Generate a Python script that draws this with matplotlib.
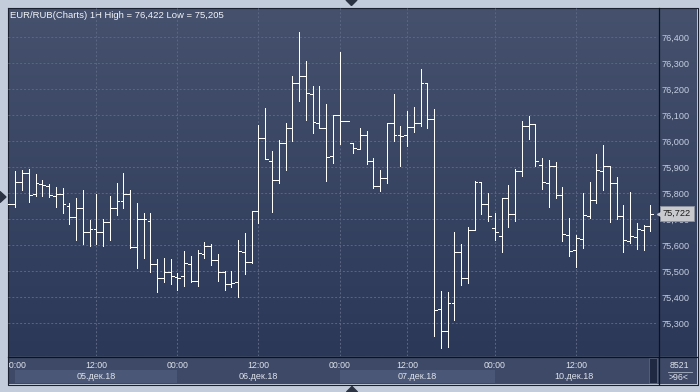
import numpy as np
import matplotlib
matplotlib.use("Agg")
import matplotlib.pyplot as plt
from matplotlib.patches import Rectangle, Polygon
from matplotlib.colors import LinearSegmentedColormap
from matplotlib.transforms import Bbox, TransformedBbox, blended_transform_factory, ScaledTranslation

# ---------------- data (EUR/RUB, 1H bars) ----------------
hours = list(range(-1, 95))
opens = [75.759, 75.759, 75.842, 75.877, 75.796, 75.834, 75.828, 75.788, 75.796, 75.751, 75.710,
         75.742, 75.652, 75.662, 75.650, 75.691, 75.742, 75.770, 75.796, 75.592, 75.700,
         75.695, 75.527, 75.473, 75.498, 75.477, 75.480, 75.527, 75.464, 75.566, 75.596,
         75.542, 75.496, 75.450, 75.457, 75.576, 75.534, 75.730, 76.011, 75.926, 75.850,
         75.992, 76.050, 76.223, 76.253, 76.180, 76.069, 76.050, 75.945, 76.101, 76.077,
         75.992, 75.969, 76.024, 75.923, 75.827, 75.857, 76.069, 76.023, 76.023, 76.054,
         76.069, 76.223, 76.087, 75.354, 75.270, 75.377, 75.576, 75.473, 75.659, 75.842,
         75.760, 75.666, 75.634, 75.780, 75.719, 75.885, 76.059, 76.065, 75.907, 75.838,
         75.904, 75.792, 75.638, 75.583, 75.623, 75.711, 75.774, 75.884, 75.904, 75.838,
         75.711, 75.615, 75.630, 75.659, 75.676]
highs = [75.759, 75.886, 75.891, 75.893, 75.874, 75.851, 75.834, 75.823, 75.819, 75.761, 75.782,
         75.812, 75.697, 75.797, 75.703, 75.788, 75.839, 75.878, 75.812, 75.761, 75.725,
         75.725, 75.547, 75.551, 75.547, 75.492, 75.578, 75.560, 75.582, 75.612, 75.606,
         75.566, 75.503, 75.501, 75.620, 75.647, 75.730, 76.063, 76.128, 75.962, 76.005,
         76.070, 76.253, 76.422, 76.309, 76.212, 76.212, 76.143, 76.101, 76.343, 76.077,
         75.992, 76.050, 76.039, 75.934, 75.888, 76.071, 76.180, 76.059, 76.116, 76.132,
         76.278, 76.223, 76.124, 75.424, 75.420, 75.651, 75.605, 75.670, 75.846, 75.842,
         75.800, 75.726, 75.780, 75.832, 75.893, 76.078, 76.098, 76.065, 75.936, 75.928,
         75.922, 75.824, 75.705, 75.640, 75.801, 75.843, 75.951, 75.986, 75.904, 75.861,
         75.755, 75.805, 75.686, 75.678, 75.755]
lows = [75.759, 75.749, 75.814, 75.768, 75.791, 75.791, 75.787, 75.747, 75.725, 75.682, 75.620,
        75.605, 75.597, 75.605, 75.598, 75.620, 75.716, 75.743, 75.588, 75.512, 75.550,
        75.498, 75.421, 75.460, 75.450, 75.428, 75.444, 75.457, 75.444, 75.550, 75.524,
        75.462, 75.428, 75.441, 75.400, 75.491, 75.530, 75.687, 75.930, 75.729, 75.841,
        75.891, 76.002, 76.156, 76.083, 76.033, 76.050, 75.848, 75.918, 75.991, 76.077,
        75.956, 75.969, 75.914, 75.821, 75.810, 75.841, 76.002, 75.906, 75.983, 76.037,
        76.059, 76.052, 75.252, 75.205, 75.207, 75.314, 75.446, 75.454, 75.659, 75.721,
        75.695, 75.621, 75.575, 75.669, 75.695, 75.867, 76.010, 75.906, 75.815, 75.749,
        75.780, 75.618, 75.560, 75.518, 75.591, 75.706, 75.764, 75.814, 75.691, 75.703,
        75.575, 75.609, 75.587, 75.583, 75.656]
closes = [75.759, 75.842, 75.877, 75.792, 75.838, 75.832, 75.792, 75.796, 75.757, 75.710, 75.742,
          75.652, 75.662, 75.650, 75.691, 75.742, 75.770, 75.796, 75.592, 75.700, 75.700,
          75.527, 75.473, 75.498, 75.480, 75.473, 75.530, 75.464, 75.569, 75.596, 75.542,
          75.498, 75.450, 75.454, 75.579, 75.534, 75.730, 76.011, 75.930, 75.850, 75.992,
          76.050, 76.223, 76.253, 76.184, 76.073, 76.050, 75.941, 76.101, 76.077, 76.077,
          75.973, 76.024, 75.923, 75.829, 75.857, 76.069, 76.023, 76.019, 76.054, 76.069,
          76.223, 76.084, 75.350, 75.270, 75.377, 75.576, 75.473, 75.659, 75.842, 75.760,
          75.711, 75.653, 75.780, 75.719, 75.885, 76.060, 76.065, 75.923, 75.843, 75.904,
          75.792, 75.642, 75.579, 75.627, 75.715, 75.774, 75.888, 75.904, 75.838, 75.711,
          75.619, 75.634, 75.662, 75.674, 75.722]

price_ticks = [75.3, 75.4, 75.5, 75.6, 75.7, 75.8, 75.9, 76.0, 76.1, 76.2, 76.3, 76.4]
time_ticks = [0, 12, 24, 36, 48, 58, 71, 83]
time_labels = ["00:00", "12:00", "00:00", "12:00", "00:00", "12:00", "00:00", "12:00"]
day_starts = [0, 24, 48, 71]
day_end = 94.5
day_labels = ["05.дек.18", "06.дек.18", "07.дек.18", "10.дек.18"]
title = "EUR/RUB(Charts) 1H High = 76,422 Low = 75,205"
info_top = "8521"
info_bottom = ">96<"

# ---------------- figure ----------------
W, H = 700, 392
plt.rcParams['font.family'] = ['Liberation Sans', 'DejaVu Sans']

fig = plt.figure(figsize=(W / 100, H / 100), dpi=100)
fig.patch.set_facecolor('#c3ccdb')

# chrome / background in pixel coordinates
bg = fig.add_axes([0, 0, 1, 1])
bg.axis('off')
grad = np.linspace(0, 1, 256).reshape(-1, 1)
cmap = LinearSegmentedColormap.from_list('bgc', ['#45516d', '#2b3858'])
bg.imshow(grad, cmap=cmap, extent=(8, 697, 356, 8), aspect='auto',
          interpolation='bilinear', origin='upper')
bg.add_patch(Rectangle((8, 356), 689, 28, facecolor='#3d4966', edgecolor='none'))
bg.add_patch(Rectangle((649, 358), 8, 25, facecolor='#1f2a42', edgecolor='#5a6680', lw=0.6))
bg.plot([7.5, 697.5, 697.5, 7.5, 7.5], [7.5, 7.5, 384.5, 384.5, 7.5], color='#1b2130', lw=0.8)
bg.plot([8, 697], [356.5, 356.5], color='#0e121b', lw=0.9)
bg.plot([658.5, 658.5], [8, 384], color='#0e121b', lw=0.9)
bg.text(679, 365, info_top, ha='center', va='center', fontsize=6.3, color='#dfe3ec')
bg.plot([668, 692], [371.5, 371.5], color='#aab4c8', lw=0.6)
bg.text(679, 377.5, info_bottom, ha='center', va='center', fontsize=6.3, color='#dfe3ec')
bg.add_patch(Polygon([[346, 0], [357, 0], [351.5, 5.5]], closed=True, color='#2c3444'))
bg.add_patch(Polygon([[346.5, 392], [357.5, 392], [352, 386.5]], closed=True, color='#2c3444'))
bg.add_patch(Polygon([[0, 191.5], [0, 202.5], [6, 197]], closed=True, color='#2c3444'))
bg.text(10, 15.5, title, ha='left', va='center', fontsize=6.8, color='#f2f4f8')
bg.set_xlim(0, W)
bg.set_ylim(H, 0)

# main chart axes
ax = fig.add_axes([8 / W, (H - 356) / H, 650 / W, 348 / H])
ax.set_facecolor('none')
for s in ax.spines.values():
    s.set_visible(False)

x = np.array(hours, dtype=float)
tick_w = 0.42
bar_kw = dict(colors='white', lw=0.6, antialiased=False, zorder=3)
ax.vlines(x, lows, highs, **bar_kw)
ax.hlines(opens, x - tick_w, x, **bar_kw)
ax.hlines(closes, x, x + tick_w, **bar_kw)

ax.set_xlim(-1.08, 95.14)
ax.set_ylim(75.1742, 76.5127)

ax.yaxis.tick_right()
ax.set_yticks(price_ticks)
ax.set_yticklabels([f"{v:.3f}".replace('.', ',') for v in price_ticks])
ax.tick_params(axis='y', length=0, pad=2.2, labelsize=6.6, labelcolor='#c5cee0')

ax.set_xticks(time_ticks[1:])
ax.set_xticklabels(time_labels[1:])
xpad = 3.5
ax.tick_params(axis='x', length=0, pad=xpad, labelsize=6.3, labelcolor='#dfe3ec')
ax.grid(True, color='#5a6682', lw=0.7, ls=(0, (2, 2)), zorder=1)

# first (clipped) time label
t0 = ax.text(time_ticks[0], 0, time_labels[0],
             transform=ax.get_xaxis_transform() + ScaledTranslation(0, -xpad / 72, fig.dpi_scale_trans),
             ha='center', va='top', fontsize=6.3, color='#dfe3ec')
t0.set_clip_box(TransformedBbox(Bbox.from_extents(9.0 / W, 0, 1, 1), fig.transFigure))
t0.set_clip_on(True)

# date bands and labels
xt = ax.get_xaxis_transform()
ends = day_starts[1:] + [day_end]
for i, (s, e) in enumerate(zip(day_starts, ends)):
    if i % 2 == 0:
        ax.add_patch(Rectangle((s, -27 / 348), e - s, 13 / 348, transform=xt, clip_on=False,
                               facecolor='#4a5776', edgecolor='none', zorder=0))
    ax.text((s + e) / 2, -20.5 / 348, day_labels[i], transform=xt, ha='center', va='center',
            fontsize=6.5, color='#dfe3ec', clip_on=False)

# last price marker
trans = blended_transform_factory(ax.transAxes, ax.transData)
last = closes[-1]
ax.text(1 + 5 / 650, last, f"{last:.3f}".replace('.', ','), transform=trans, ha='left', va='center',
        fontsize=6.6, color='#1a1a1a', zorder=10, clip_on=False,
        bbox=dict(boxstyle='square,pad=0.3', fc='#c9cacd', ec='#8d939e', lw=0.6))
ax.plot([1 + 2 / 650], [last], marker='<', ms=4, color='#c9cacd', mec='#c9cacd',
        transform=trans, clip_on=False, zorder=11)

fig.savefig('out.png', dpi=100, facecolor=fig.get_facecolor())
